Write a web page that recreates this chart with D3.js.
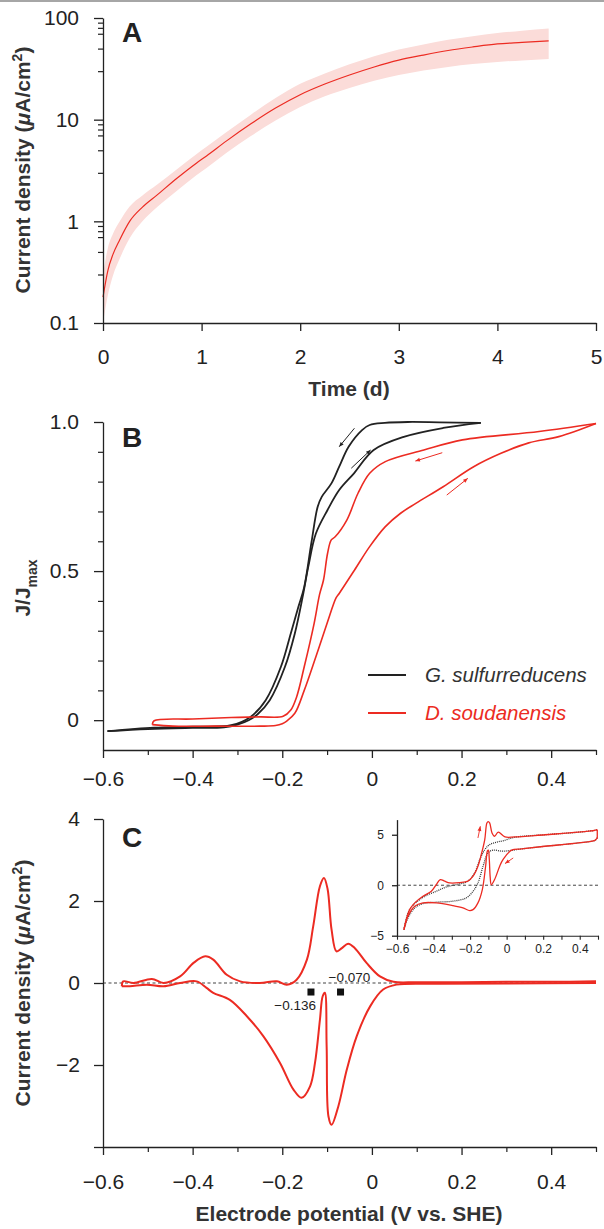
<!DOCTYPE html>
<html>
<head>
<meta charset="utf-8">
<script src="https://cdn.jsdelivr.net/npm/d3@7"></script>
<style>
  body { margin: 0; background: #fff; }
  svg { display: block; }
</style>
</head>
<body>
<svg width="604" height="1229"></svg>
<script>
var svg = d3.select("svg"),
    RED = "#ec2b22",
    INK = "#222",
    FONT = "'Liberation Sans', Arial, sans-serif";

// ---------- panel A : current density vs time ----------
var timeA = [0, 0.05, 0.1, 0.17, 0.27, 0.4, 0.55, 0.75, 0.95, 1.05, 1.25, 1.5, 1.75, 2.0, 2.25, 2.5, 2.75, 3.0, 3.25, 3.5, 3.75, 4.0, 4.25, 4.52];
var meanA = [0.18, 0.33, 0.47, 0.66, 1.0, 1.38, 1.82, 2.65, 3.75, 4.4, 6.15, 9.1, 13.0, 17.6, 22.4, 27.5, 33, 38.5, 43.2, 47.9, 51.9, 55.6, 57.5, 59.6];
var highA = [0.3, 0.55, 0.75, 1.0, 1.4, 1.8, 2.3, 3.25, 4.6, 5.4, 7.5, 11.2, 16.3, 22.5, 28.5, 35, 42, 49, 55, 61, 66, 71, 75, 79];
var lowA  = [0.1, 0.19, 0.29, 0.43, 0.68, 1.0, 1.38, 2.0, 2.85, 3.35, 4.7, 6.9, 9.8, 13.3, 17, 20.5, 24.2, 27.5, 30.5, 33, 35.2, 37, 38.3, 39.5];
var decadesA = [0.1, 1, 10, 100];
var minorMultA = [3, 5, 7, 8, 9];
var daysA = [0, 1, 2, 3, 4, 5];

// ---------- panel B : normalised CVs ----------
var gsFwdV = [-0.59, -0.5, -0.4, -0.33, -0.3, -0.275, -0.255, -0.228, -0.194, -0.172, -0.155, -0.142, -0.125, -0.099, -0.073, -0.04, 0.004, 0.073, 0.159, 0.243];
var gsFwdJ = [-0.037, -0.03, -0.026, -0.024, -0.015, 0.0, 0.02, 0.067, 0.179, 0.291, 0.41, 0.514, 0.626, 0.705, 0.772, 0.828, 0.906, 0.951, 0.98, 0.997];
var gsRevV = [0.243, 0.15, 0.08, 0.029, -0.005, -0.022, -0.052, -0.073, -0.09, -0.112, -0.121, -0.135, -0.151, -0.164, -0.181, -0.203, -0.237, -0.271, -0.314, -0.4, -0.486, -0.59];
var gsRevJ = [0.997, 0.999, 1.0, 0.997, 0.99, 0.973, 0.917, 0.85, 0.795, 0.749, 0.716, 0.595, 0.447, 0.38, 0.291, 0.179, 0.067, 0.011, -0.017, -0.022, -0.025, -0.037];
var dsFwdV = [-0.49, -0.444, -0.35, -0.25, -0.215, -0.2, -0.19, -0.172, -0.151, -0.125, -0.1, -0.08, -0.073, -0.039, -0.005, 0.03, 0.064, 0.098, 0.159, 0.227, 0.288, 0.35, 0.417, 0.5];
var dsFwdJ = [-0.015, -0.02, -0.02, -0.02, -0.018, -0.012, -0.003, 0.023, 0.1, 0.213, 0.325, 0.41, 0.425, 0.503, 0.582, 0.649, 0.694, 0.727, 0.783, 0.85, 0.895, 0.93, 0.951, 0.995];
var dsRevV = [0.5, 0.373, 0.202, 0.116, 0.03, -0.005, -0.031, -0.056, -0.082, -0.091, -0.099, -0.108, -0.117, -0.129, -0.151, -0.168, -0.181, -0.198, -0.25, -0.314, -0.4, -0.486, -0.49];
var dsRevJ = [0.995, 0.968, 0.94, 0.906, 0.867, 0.828, 0.761, 0.671, 0.615, 0.604, 0.559, 0.47, 0.42, 0.324, 0.179, 0.078, 0.034, 0.013, 0.011, 0.009, 0.004, -0.002, -0.015];
// scan-direction arrows [v0, j0, v1, j1]
var arrowsB = [
  { c: INK, p: [-0.039, 0.979, -0.073, 0.917] },
  { c: INK, p: [-0.046, 0.845, -0.003, 0.906] },
  { c: RED, p: [0.157, 0.897, 0.097, 0.869] },
  { c: RED, p: [0.167, 0.755, 0.214, 0.811] }
];
var legendB = [
  { name: "G. sulfurreducens", color: INK },
  { name: "D. soudanensis", color: RED }
];
var ticksB = [0, 0.5, 1.0];
var minorB = [0.1, 0.2, 0.3, 0.4, 0.6, 0.7, 0.8, 0.9];
var potMajor = [-0.6, -0.4, -0.2, 0, 0.2, 0.4];
var potMinor = [-0.5, -0.3, -0.1, 0.1, 0.3, 0.5];

// ---------- panel C : baseline-subtracted CV ----------
var upV = [-0.558, -0.555, -0.532, -0.491, -0.465, -0.428, -0.398, -0.372, -0.354, -0.324, -0.294, -0.25, -0.212, -0.19, -0.168, -0.145, -0.131, -0.116, -0.107, -0.099, -0.09, -0.079, -0.067, -0.053, -0.038, -0.012, 0.018, 0.048, 0.1, 0.2, 0.3, 0.4, 0.5];
var upJ = [-0.08, 0.04, 0.0, 0.1, 0.0, 0.16, 0.49, 0.65, 0.57, 0.2, 0.04, 0.0, 0.04, -0.04, 0.08, 0.57, 1.38, 2.36, 2.56, 2.3, 1.3, 0.77, 0.85, 0.96, 0.85, 0.49, 0.16, 0.03, 0.02, 0.02, 0.03, 0.03, 0.04];
var dnV = [0.5, 0.3, 0.152, 0.055, 0.025, -0.004, -0.034, -0.056, -0.075, -0.09, -0.097, -0.101, -0.105, -0.11, -0.116, -0.127, -0.138, -0.157, -0.175, -0.205, -0.242, -0.279, -0.317, -0.354, -0.369, -0.391, -0.428, -0.465, -0.502, -0.54, -0.558];
var dnJ = [0.0, -0.01, -0.02, -0.04, -0.16, -0.57, -1.3, -2.11, -3.01, -3.46, -3.25, -1.55, -0.24, -0.33, -0.9, -1.95, -2.52, -2.8, -2.6, -1.95, -1.3, -0.81, -0.41, -0.24, -0.12, 0.04, 0.0, -0.08, -0.04, -0.08, -0.08];
var midpoints = [-0.136, -0.070];
var midJ = -0.22;
var ticksC = [-4, -2, 0, 2, 4];

// inset: raw CV (red) and control (dotted)
var inRedUpV = [-0.562, -0.549, -0.531, -0.503, -0.458, -0.412, -0.385, -0.363, -0.339, -0.312, -0.257, -0.212, -0.184, -0.157, -0.139, -0.12, -0.108, -0.101, -0.093, -0.08, -0.066, -0.046, -0.009, 0.045, 0.21, 0.392, 0.483, 0.496];
var inRedUpJ = [-4.4, -3.4, -2.42, -1.75, -1.09, -0.6, 0.06, 0.56, 0.4, 0.23, 0.26, 0.4, 0.89, 1.88, 3.03, 4.5, 6.17, 6.3, 6.17, 5.18, 4.85, 5.25, 4.78, 4.78, 5.0, 5.25, 5.44, 5.5];
var inRedDnV = [0.496, 0.483, 0.392, 0.21, 0.082, 0.027, -0.02, -0.038, -0.066, -0.084, -0.09, -0.095, -0.1, -0.105, -0.115, -0.133, -0.157, -0.184, -0.202, -0.239, -0.294, -0.385, -0.458, -0.503, -0.54, -0.562];
var inRedDnJ = [4.68, 4.45, 4.19, 3.86, 3.6, 3.47, 2.53, 1.88, 0.56, 0.06, 0.8, 2.6, 3.47, 3.4, 1.88, -0.43, -1.75, -2.42, -2.51, -2.25, -2.02, -1.75, -1.75, -2.08, -3.07, -4.4];
var inDotUpV = [-0.562, -0.531, -0.458, -0.385, -0.33, -0.257, -0.212, -0.175, -0.147, -0.12, -0.093, -0.057, -0.02, 0.045, 0.21, 0.392, 0.483, 0.496];
var inDotUpJ = [-4.4, -2.42, -1.2, -0.6, -0.17, 0.13, 0.4, 1.22, 2.53, 3.52, 4.02, 4.26, 4.4, 4.75, 5.0, 5.25, 5.44, 5.5];
var inDotDnV = [0.496, 0.483, 0.392, 0.21, 0.082, -0.02, -0.075, -0.102, -0.129, -0.157, -0.184, -0.221, -0.294, -0.385, -0.458, -0.503, -0.54, -0.562];
var inDotDnJ = [4.68, 4.45, 4.19, 3.86, 3.6, 3.37, 3.47, 3.2, 1.88, 0.23, -0.6, -1.26, -1.58, -1.68, -1.82, -2.25, -3.24, -4.4];
var arrowsIn = [[-0.157, 4.68, -0.144, 5.84], [0.036, 2.7, -0.009, 2.14]];
var ticksIn = [-5, 0, 5];
var potAll = [-0.6, -0.5, -0.4, -0.3, -0.2, -0.1, 0, 0.1, 0.2, 0.3, 0.4, 0.5];

// ---------- scales ----------
var xA = d3.scaleLinear().domain([0, 5]).range([103, 596]);
var yA = d3.scaleLog().domain([0.1, 100]).range([323, 18]);
var xB = d3.scaleLinear().domain([-0.6, 0.5]).range([103, 596]);
var yB = d3.scaleLinear().domain([-0.1, 1.0]).range([750, 422]);
var xC = xB.copy();
var yC = d3.scaleLinear().domain([-4, 4]).range([1147, 819]);
var xI = d3.scaleLinear().domain([-0.6, 0.5]).range([397, 598]);
var yI = d3.scaleLinear().domain([-5, 6.5]).range([935.7, 819.6]);

svg.append("line").attr("x1", 0).attr("x2", 604).attr("y1", 1).attr("y2", 1)
    .attr("stroke", "#888").attr("stroke-width", 1.5);

var numFmt = function(d) { return d === 0 ? "0" : d3.format(".1f")(d); };

function styleAxis(g, size) {
  g.attr("font-family", FONT).attr("font-size", size);
  g.select(".domain").attr("stroke", INK).attr("stroke-width", 1.3);
  g.selectAll(".tick line").attr("stroke", INK).attr("stroke-width", 1.3);
  g.selectAll(".tick text").attr("fill", INK);
  return g;
}
function minorAxis(axis, y, x) {
  var g = svg.append("g").attr("transform", "translate(" + x + "," + y + ")").call(axis);
  g.select(".domain").remove();
  g.selectAll(".tick line").attr("stroke", INK).attr("stroke-width", 1.2);
  g.selectAll(".tick text").remove();
}
function title(x, y, rot) {
  return svg.append("text")
      .attr("transform", "translate(" + x + "," + y + ")" + (rot ? " rotate(-90)" : ""))
      .attr("text-anchor", "middle")
      .attr("font-family", FONT).attr("font-weight", "bold").attr("font-size", 21)
      .attr("fill", "#333");
}
function densityTitle(x, y) {
  var t = title(x, y, true);
  t.append("tspan").text("Current density (");
  t.append("tspan").attr("font-style", "italic").text("\u03bc");
  t.append("tspan").text("A/cm");
  t.append("tspan").attr("font-size", 14).attr("dy", -8).text("2");
  t.append("tspan").attr("dy", 8).text(")");
}
function panelLetter(s, y) {
  svg.append("text").attr("x", 122).attr("y", y).text(s)
      .attr("font-family", FONT).attr("font-weight", "bold").attr("font-size", 28).attr("fill", INK);
}
function arrow(x, y, p, color, w) {
  var x0 = x(p[0]), y0 = y(p[1]), x1 = x(p[2]), y1 = y(p[3]);
  var a = Math.atan2(y1 - y0, x1 - x0), h = 5;
  svg.append("line").attr("x1", x0).attr("y1", y0).attr("x2", x1).attr("y2", y1)
      .attr("stroke", color).attr("stroke-width", w);
  svg.append("path")
      .attr("d", "M" + x1 + "," + y1 +
        "L" + (x1 - h * Math.cos(a - 0.4)) + "," + (y1 - h * Math.sin(a - 0.4)) +
        "L" + (x1 - h * Math.cos(a + 0.4)) + "," + (y1 - h * Math.sin(a + 0.4)) + "Z")
      .attr("fill", color);
}
function curve(x, y, vs, js, color, w, dash) {
  var line = d3.line().x(function(d) { return x(d[0]); }).y(function(d) { return y(d[1]); })
      .curve(d3.curveCatmullRom.alpha(0.5));
  var p = svg.append("path").datum(d3.zip(vs, js)).attr("d", line)
      .attr("fill", "none").attr("stroke", color).attr("stroke-width", w)
      .attr("stroke-linejoin", "round");
  if (dash) p.attr("stroke-dasharray", dash);
  return p;
}

// ================= panel A =================
var bandA = d3.area()
    .x(function(d) { return xA(d[0]); })
    .y0(function(d) { return yA(d[1]); })
    .y1(function(d) { return yA(d[2]); })
    .curve(d3.curveMonotoneX);
svg.append("path").datum(d3.zip(timeA, lowA, highA)).attr("d", bandA).attr("fill", "#fbdcd9");
svg.append("path").datum(d3.zip(timeA, meanA))
    .attr("d", d3.line().x(function(d) { return xA(d[0]); }).y(function(d) { return yA(d[1]); }).curve(d3.curveMonotoneX))
    .attr("fill", "none").attr("stroke", RED).attr("stroke-width", 1.2);

var minorsA = [];
decadesA.slice(0, 3).forEach(function(d) { minorMultA.forEach(function(m) { minorsA.push(d * m); }); });
minorAxis(d3.axisLeft(yA).tickValues(minorsA).tickSize(5).tickSizeOuter(0), 0, 103);
styleAxis(svg.append("g").attr("transform", "translate(103,0)")
    .call(d3.axisLeft(yA).tickValues(decadesA).tickFormat(function(d) { return d; })
      .tickSize(9).tickSizeOuter(0).tickPadding(15)), 21);
styleAxis(svg.append("g").attr("transform", "translate(0,323)")
    .call(d3.axisBottom(xA).tickValues(daysA).tickFormat(d3.format("d"))
      .tickSize(8).tickSizeOuter(0).tickPadding(18)), 21);
title(349, 396).text("Time (d)");
densityTitle(30, 170);
panelLetter("A", 42);

// ================= panel B =================
curve(xB, yB, gsFwdV, gsFwdJ, INK, 1.8);
curve(xB, yB, gsRevV, gsRevJ, INK, 1.8);
curve(xB, yB, dsFwdV, dsFwdJ, RED, 1.6);
curve(xB, yB, dsRevV, dsRevJ, RED, 1.6);
arrowsB.forEach(function(a) { arrow(xB, yB, a.p, a.c, 1); });

minorAxis(d3.axisLeft(yB).tickValues(minorB).tickSize(5).tickSizeOuter(0), 0, 103);
styleAxis(svg.append("g").attr("transform", "translate(103,0)")
    .call(d3.axisLeft(yB).tickValues(ticksB).tickFormat(numFmt)
      .tickSize(9).tickSizeOuter(0).tickPadding(15)), 21);
minorAxis(d3.axisBottom(xB).tickValues(potMinor).tickSize(5), 750, 0);
styleAxis(svg.append("g").attr("transform", "translate(0,750)")
    .call(d3.axisBottom(xB).tickValues(potMajor).tickFormat(numFmt)
      .tickSize(8).tickSizeOuter(0).tickPadding(13)), 21);

var jt = title(30, 588, true);
jt.append("tspan").text("J/J");
jt.append("tspan").attr("font-size", 14).attr("dy", 7).text("max");

var leg = svg.append("g").attr("font-family", FONT).attr("font-size", 20.5).attr("font-style", "italic");
legendB.forEach(function(d, i) {
  var yy = 675 + i * 38;
  leg.append("line").attr("x1", 368).attr("x2", 406).attr("y1", yy).attr("y2", yy)
      .attr("stroke", d.color).attr("stroke-width", 2);
  leg.append("text").attr("x", 425).attr("y", yy + 7).attr("fill", d.color === INK ? "#333" : RED).text(d.name);
});
panelLetter("B", 447);

// ================= panel C =================
svg.append("line").attr("x1", xC(-0.6)).attr("x2", xC(0.5)).attr("y1", yC(0)).attr("y2", yC(0))
    .attr("stroke", "#444").attr("stroke-width", 1.1).attr("stroke-dasharray", "3,2.5");
curve(xC, yC, upV, upJ, RED, 2);
curve(xC, yC, dnV, dnJ, RED, 2);

svg.selectAll(".mid").data(midpoints).enter().append("rect")
    .attr("x", function(d) { return xC(d) - 3.5; }).attr("y", yC(midJ) - 3.5)
    .attr("width", 7).attr("height", 7).attr("fill", "#111");
svg.append("text").attr("x", xC(midpoints[0]) + 5).attr("y", yC(midJ) + 18)
    .attr("text-anchor", "end").attr("font-family", FONT).attr("font-size", 13.5).attr("fill", INK)
    .text(d3.format(".3f")(midpoints[0]));
svg.append("text").attr("x", xC(midpoints[1]) - 12).attr("y", yC(0) - 1.5)
    .attr("font-family", FONT).attr("font-size", 13.5).attr("fill", INK)
    .text(d3.format(".3f")(midpoints[1]));

styleAxis(svg.append("g").attr("transform", "translate(103,0)")
    .call(d3.axisLeft(yC).tickValues(ticksC).tickFormat(function(d) { return d === -4 ? "" : d3.format("d")(d); })
      .tickSize(9).tickSizeOuter(0).tickPadding(14)), 21);
minorAxis(d3.axisBottom(xC).tickValues(potMinor).tickSize(5), 1147, 0);
styleAxis(svg.append("g").attr("transform", "translate(0,1147)")
    .call(d3.axisBottom(xC).tickValues(potMajor).tickFormat(numFmt)
      .tickSize(8).tickSizeOuter(0).tickPadding(19)), 21);
title(349, 1221).text("Electrode potential (V vs. SHE)");
densityTitle(30, 983);
panelLetter("C", 847);

// ---- inset ----
svg.append("line").attr("x1", xI(-0.6)).attr("x2", xI(0.5)).attr("y1", yI(0)).attr("y2", yI(0))
    .attr("stroke", "#444").attr("stroke-width", 1).attr("stroke-dasharray", "3,2.5");
curve(xI, yI, inDotUpV, inDotUpJ, "#333", 1.3, "1,1");
curve(xI, yI, inDotDnV, inDotDnJ, "#333", 1.3, "1,1");
curve(xI, yI, inRedUpV, inRedUpJ, RED, 1.3);
curve(xI, yI, inRedDnV, inRedDnJ, RED, 1.3);
svg.append("line").attr("x1", xI(0.496)).attr("x2", xI(0.496)).attr("y1", yI(5.5)).attr("y2", yI(4.68))
    .attr("stroke", RED).attr("stroke-width", 1.3);
arrowsIn.forEach(function(p) { arrow(xI, yI, p, RED, 0.9); });

styleAxis(svg.append("g").attr("transform", "translate(397,0)")
    .call(d3.axisLeft(yI).tickValues(ticksIn).tickFormat(d3.format("d"))
      .tickSize(5).tickSizeOuter(0).tickPadding(8)), 12);
styleAxis(svg.append("g").attr("transform", "translate(0,935.7)")
    .call(d3.axisBottom(xI).tickValues(potAll)
      .tickFormat(function(d) { return potMajor.indexOf(d) >= 0 ? numFmt(d) : ""; })
      .tickSize(4).tickSizeOuter(0).tickPadding(5)), 12)
    .selectAll(".domain, .tick line").attr("stroke-width", 1.1);
</script>
</body>
</html>
